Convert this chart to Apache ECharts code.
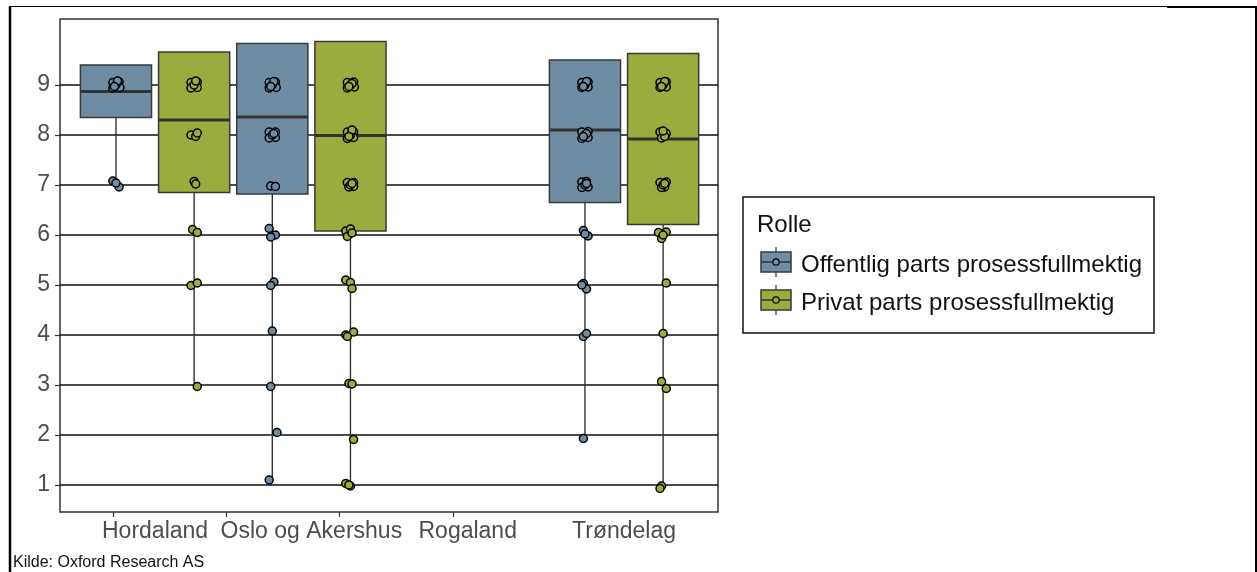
<!DOCTYPE html>
<html>
<head>
<meta charset="utf-8">
<script src="https://cdn.jsdelivr.net/npm/echarts@6/dist/echarts.min.js"></script>
<style>
html,body{margin:0;padding:0;background:#fff}
#chart{width:1257px;height:572px}
</style>
</head>
<body>
<div id="chart"></div>
<script>
var categories = ['Hordaland', 'Oslo og Akershus', 'Rogaland', 'Trøndelag'];
var roles = ['Offentlig parts prosessfullmektig', 'Privat parts prosessfullmektig'];
var yTicks = [1, 2, 3, 4, 5, 6, 7, 8, 9];

// [category, min, q1, median, q3, max]
var boxOffentlig = [
  [0, 7.0, 8.35, 8.87, 9.4, 9.4],
  [1, 1.1, 6.82, 8.36, 9.83, 9.83],
  [3, 1.93, 6.65, 8.1, 9.5, 9.5]
];
var boxPrivat = [
  [0, 2.97, 6.85, 8.3, 9.66, 9.66],
  [1, 0.98, 6.08, 7.99, 9.87, 9.87],
  [3, 0.93, 6.21, 7.92, 9.63, 9.63]
];

// answers: [category, jitter, value]
var ptsOffentlig = [
  [0,-0.02,9.05],[0,0.02,9.06],[0,0.025,8.95],[0,-0.02,8.94],[0,0.0,9.0],[0,0.01,9.08],[0,-0.01,8.97],
  [0,-0.02,7.08],[0,0.02,6.96],[0,0.0,7.04],
  [1,-0.02,9.05],[1,0.02,9.06],[1,0.025,8.95],[1,-0.02,8.94],[1,0.0,9.0],[1,0.01,9.07],[1,-0.01,8.97],
  [1,-0.02,8.06],[1,0.02,8.06],[1,0.02,7.95],[1,-0.02,7.94],[1,0.0,8.0],[1,0.01,8.03],
  [1,-0.01,6.98],[1,0.02,6.97],
  [1,-0.02,6.13],[1,0.02,6.0],[1,-0.01,5.96],
  [1,0.01,5.06],[1,-0.01,4.99],
  [1,0.0,4.08],
  [1,-0.01,2.97],
  [1,0.03,2.05],
  [1,-0.02,1.1],
  [3,-0.02,9.05],[3,0.02,9.06],[3,0.02,8.96],[3,-0.02,8.95],[3,0.0,9.0],[3,0.01,9.07],[3,-0.01,8.97],
  [3,-0.02,8.06],[3,0.02,8.07],[3,0.02,7.95],[3,-0.02,7.93],[3,0.0,8.0],[3,0.01,8.03],[3,-0.01,7.97],
  [3,-0.02,7.06],[3,0.01,7.07],[3,0.02,6.96],[3,-0.02,6.95],[3,0.0,7.0],[3,0.01,7.03],
  [3,-0.01,6.09],[3,0.02,5.98],[3,0.0,6.02],
  [3,-0.01,5.03],[3,0.01,4.92],[3,-0.02,5.0],
  [3,-0.01,3.97],[3,0.01,4.03],
  [3,-0.01,1.93]
];
var ptsPrivat = [
  [0,-0.02,9.05],[0,0.02,9.06],[0,0.02,8.95],[0,-0.02,8.94],[0,0.0,9.0],[0,0.01,9.08],
  [0,-0.02,8.0],[0,0.01,7.97],[0,0.02,8.04],
  [0,0.0,7.07],[0,0.01,7.02],
  [0,-0.01,6.11],[0,0.02,6.05],
  [0,-0.02,4.99],[0,0.02,5.04],
  [0,0.02,2.97],
  [1,-0.02,9.05],[1,0.02,9.06],[1,0.025,8.96],[1,-0.02,8.94],[1,0.0,9.0],[1,0.01,9.03],[1,-0.01,8.97],
  [1,-0.02,8.06],[1,0.02,8.06],[1,0.02,7.95],[1,-0.02,7.93],[1,0.0,8.0],[1,0.01,8.1],[1,-0.01,7.97],
  [1,-0.02,7.05],[1,0.02,7.05],[1,0.02,6.97],[1,-0.01,6.96],[1,0.0,7.0],[1,0.01,7.03],
  [1,-0.03,6.08],[1,0.0,6.12],[1,-0.02,5.97],[1,0.01,6.04],
  [1,-0.03,5.1],[1,0.0,5.05],[1,0.01,4.93],
  [1,-0.03,4.0],[1,0.02,4.06],[1,-0.02,3.97],
  [1,-0.01,3.03],[1,0.01,3.02],
  [1,0.02,1.91],
  [1,-0.03,1.03],[1,0.0,0.98],[1,-0.01,1.0],
  [3,-0.02,9.05],[3,0.02,9.06],[3,0.02,8.96],[3,-0.02,8.95],[3,0.0,9.0],[3,0.01,9.07],[3,-0.01,8.97],
  [3,-0.02,8.06],[3,0.02,8.03],[3,-0.01,7.94],[3,0.01,7.97],[3,0.0,8.08],
  [3,-0.02,7.05],[3,0.02,7.06],[3,0.01,6.96],[3,-0.01,6.95],[3,0.0,7.0],[3,0.01,7.03],
  [3,-0.03,6.05],[3,0.02,6.06],[3,-0.01,5.93],[3,0.0,6.0],
  [3,0.02,5.04],
  [3,0.0,4.03],
  [3,-0.01,3.07],[3,0.02,2.93],
  [3,-0.01,0.98],[3,-0.02,0.93]
];

var colors = ['#6f8da2', '#9bab3e'];
var DODGE = 0.25;
var BOX_W = 0.455;
var FONT = 'Liberation Sans, Arial, sans-serif';

function boxItem(dodge, color) {
  return function (params, api) {
    var x = api.value(0) + dodge;
    var lo = api.coord([x, api.value(1)]);
    var q1 = api.coord([x, api.value(2)]);
    var md = api.coord([x, api.value(3)]);
    var q3 = api.coord([x, api.value(4)]);
    var hi = api.coord([x, api.value(5)]);
    var half = api.size([BOX_W, 0])[0] / 2;
    return {
      type: 'group',
      children: [
        { type: 'line', shape: { x1: lo[0], y1: lo[1], x2: q1[0], y2: q1[1] }, style: { stroke: '#333', lineWidth: 1.4 } },
        { type: 'line', shape: { x1: q3[0], y1: q3[1], x2: hi[0], y2: hi[1] }, style: { stroke: '#333', lineWidth: 1.4 } },
        { type: 'rect', shape: { x: q1[0] - half, y: q3[1], width: half * 2, height: q1[1] - q3[1] },
          style: { fill: color, stroke: '#3a3a3a', lineWidth: 1.5 } },
        { type: 'line', shape: { x1: md[0] - half, y1: md[1], x2: md[0] + half, y2: md[1] }, style: { stroke: '#333', lineWidth: 3 } }
      ]
    };
  };
}

function jitterPoints(pts, dodge) {
  return pts.map(function (p) { return [p[0] + dodge + p[1], p[2]]; });
}

function legendKey(x, y, color) {
  return [
    { type: 'line', shape: { x1: x + 15, y1: y - 15, x2: x + 15, y2: y + 15 }, style: { stroke: '#333', lineWidth: 1.2 } },
    { type: 'rect', shape: { x: x, y: y - 10, width: 30, height: 20 }, style: { fill: color, stroke: '#3a3a3a', lineWidth: 1.5 } },
    { type: 'line', shape: { x1: x, y1: y, x2: x + 30, y2: y }, style: { stroke: '#333', lineWidth: 1.5 } },
    { type: 'circle', shape: { cx: x + 15, cy: y, r: 3.2 }, style: { fill: color, stroke: '#000', lineWidth: 1.2 } }
  ];
}

var legendChildren = [
  { type: 'rect', shape: { x: 743, y: 197, width: 411, height: 136 }, style: { fill: '#fff', stroke: '#111', lineWidth: 1.5 } },
  { type: 'text', x: 757, y: 225, style: { text: 'Rolle', font: '24px ' + FONT, fill: '#111', verticalAlign: 'middle' } }
];
roles.forEach(function (r, i) {
  var cy = 262 + i * 38;
  legendChildren = legendChildren.concat(legendKey(761, cy, colors[i]));
  legendChildren.push({ type: 'text', x: 801, y: cy + 3, style: { text: r, font: '24px ' + FONT, fill: '#111', verticalAlign: 'middle' } });
});

var chart = echarts.init(document.getElementById('chart'));
var option = {
  animation: false,
  backgroundColor: '#fff',
  grid: { left: 60, right: 539, top: 19, bottom: 60, show: true, borderColor: '#333', borderWidth: 1.5, backgroundColor: 'transparent' },
  xAxis: {
    type: 'value', min: -0.608, max: 3.601,
    axisLine: { show: false, onZero: false },
    splitLine: { show: false },
    axisTick: { show: true, customValues: [-0.27, 0.455, 1.18, 1.905], length: 5, lineStyle: { color: '#333', width: 1.2 } },
    axisLabel: {
      customValues: [0, 1, 2, 3],
      formatter: function (v) { return categories[Math.round(v)]; },
      color: '#4d4d4d', fontSize: 23, fontFamily: FONT, margin: 8
    }
  },
  yAxis: {
    type: 'value', min: 0.46, max: 10.32,
    axisLine: { show: false, onZero: false },
    axisTick: { show: true, customValues: yTicks, length: 5, lineStyle: { color: '#333', width: 1.2 } },
    axisLabel: { customValues: yTicks, color: '#4d4d4d', fontSize: 23, fontFamily: FONT, margin: 10 },
    splitLine: { show: true, lineStyle: { color: '#111', width: 1.5 } }
  },
  series: [
    { name: roles[0], type: 'custom', z: 2, renderItem: boxItem(-DODGE, colors[0]), data: boxOffentlig, encode: { x: 0, y: [1, 2, 3, 4, 5] } },
    { name: roles[1], type: 'custom', z: 2, renderItem: boxItem(DODGE, colors[1]), data: boxPrivat, encode: { x: 0, y: [1, 2, 3, 4, 5] } },
    { name: roles[0], type: 'scatter', z: 3, symbolSize: 8, data: jitterPoints(ptsOffentlig, -DODGE),
      itemStyle: { color: colors[0], borderColor: '#000', borderWidth: 1.5, opacity: 1 } },
    { name: roles[1], type: 'scatter', z: 3, symbolSize: 8, data: jitterPoints(ptsPrivat, DODGE),
      itemStyle: { color: colors[1], borderColor: '#000', borderWidth: 1.5, opacity: 1 } }
  ],
  graphic: [
    { type: 'group', children: legendChildren },
    { type: 'text', left: 13, top: 555, style: { text: 'Kilde: Oxford Research AS', font: '16px ' + FONT, fill: '#111' } },
    { type: 'line', shape: { x1: 10, y1: 6, x2: 10, y2: 572 }, style: { stroke: '#000', lineWidth: 2.5 } },
    { type: 'line', shape: { x1: 9, y1: 6.5, x2: 1257, y2: 6.5 }, style: { stroke: '#000', lineWidth: 1 } },
    { type: 'line', shape: { x1: 1167, y1: 7, x2: 1257, y2: 7 }, style: { stroke: '#000', lineWidth: 2 } },
    { type: 'line', shape: { x1: 1256, y1: 6, x2: 1256, y2: 572 }, style: { stroke: '#000', lineWidth: 2 } }
  ]
};
chart.setOption(option);
</script>
</body>
</html>
